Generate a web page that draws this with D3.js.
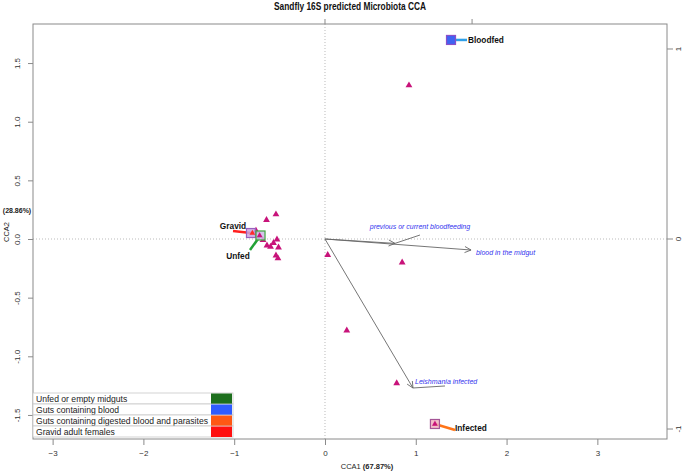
<!DOCTYPE html>
<html><head><meta charset="utf-8">
<script src="https://cdn.jsdelivr.net/npm/d3@7"></script>
<style>body{margin:0;background:#fff}svg{display:block}</style>
</head><body><svg id="c" width="685" height="472"></svg>
<script>
// ---------- data ----------
const title = "Sandfly 16S predicted Microbiota CCA";
const xTicks = [-3, -2, -1, 0, 1, 2, 3];
const yTicks = [-1.5, -1, -0.5, 0, 0.5, 1, 1.5];
const yTickLabels = ["-1.5", "-1.0", "-0.5", "0.0", "0.5", "1.0", "1.5"];
const topTicks = [0, 1];
const rightTicks = [-1, 0, 1];
const xLabel = "CCA1", xPct = "(67.87%)";
const yLabel = "CCA2", yPct = "(28.86%)";

// sample site scores (CCA1, CCA2)
const sampleX = [0.925, 0.03, 0.85, 0.24, 0.79, -0.54, -0.644, -0.683, -0.639, -0.60, -0.567, -0.529, -0.512, -0.54, -0.518, -0.76, -0.72, 1.211];
const sampleY = [1.31, -0.136, -0.20, -0.78, -1.23, 0.21, 0.162, -0.009, -0.055, -0.066, -0.034, -0.004, -0.072, -0.141, -0.165, 0.07, 0.03, -1.577];

// group centroids and label anchors
const groupNames = ["Bloodfed", "Infected", "Gravid", "Unfed"];
const groupX = [1.388, 1.211, -0.815, -0.71];
const groupY = [1.697, -1.577, 0.051, 0.03];
const groupLabelX = [1.564, 1.432, -1.013, -0.826];
const groupLabelY = [1.697, -1.628, 0.068, -0.094];

// environmental biplot arrows (biplot units)
const envNames = ["previous or current bloodfeeding", "blood in the midgut", "Leishmania infected"];
const envX = [0.476, 0.993, 0.598];
const envY = [-0.023, -0.058, -0.784];
const biplotMul = 1.62;
// label anchors (CCA units)
const envLabelX = [1.046, 1.663, 1.322];
const envLabelY = [0.034, -0.119, -1.253];

const legendLabels = ["Unfed or empty midguts", "Guts containing blood", "Guts containing digested blood and parasites", "Gravid adult females"];

// ---------- styles ----------
const legendColors = ["#1d6f1d", "#2f5cff", "#ff5814", "#ff1010"];
const groupFill = ["#3f63f2", "#f2b3c0", "#c9a3e0", "#cdbbe8"];
const groupStroke = ["#8a4fc8", "#a45596", "#9a60c0", "#3fa63f"];
const groupLine = ["#2f9fe8", "#ff7418", "#ff2020", "#22a236"];
const pointColor = "#c8137a";
const envColor = "#3333ee";

// ---------- layout ----------
const svg = d3.select("#c");
const L = 33, R = 667, T = 24, B = 439;
const x = d3.scaleLinear().domain([-3.216, 3.767]).range([L, R]);
const y = d3.scaleLinear().domain([-1.705, 1.833]).range([B, T]);
const font = "'Liberation Sans', Arial, sans-serif";
const axisCol = "#8a8a8a";

// title
svg.append("text").attr("x", 350).attr("y", 10).attr("text-anchor", "middle")
  .attr("font-family", font).attr("textLength", 152).attr("lengthAdjust", "spacingAndGlyphs")
  .attr("font-weight", "bold").attr("font-size", 10).attr("fill", "#111").text(title);

// reference lines
svg.append("line").attr("x1", x(0)).attr("x2", x(0)).attr("y1", T).attr("y2", B)
  .attr("stroke", "#aaa").attr("stroke-dasharray", "1,2").attr("stroke-width", 0.8);
svg.append("line").attr("x1", L).attr("x2", R).attr("y1", y(0)).attr("y2", y(0))
  .attr("stroke", "#aaa").attr("stroke-dasharray", "1,2").attr("stroke-width", 0.8);

// axes
function styleAxis(g) {
  g.select(".domain").remove();
  g.selectAll(".tick line").attr("stroke", axisCol);
  g.selectAll(".tick text").attr("font-family", font).attr("font-size", 8).attr("fill", "#333");
}
svg.append("g").attr("transform", `translate(0,${B})`)
  .call(d3.axisBottom(x).tickValues(xTicks).tickFormat(d3.format("d")).tickSize(6).tickPadding(5))
  .call(styleAxis);
const gl = svg.append("g").attr("transform", `translate(${L},0)`)
  .call(d3.axisLeft(y).tickValues(yTicks).tickFormat((d, i) => yTickLabels[i]).tickSize(5).tickPadding(0))
  .call(styleAxis);
gl.selectAll(".tick text").attr("text-anchor", "middle").attr("x", 0).attr("dy", 0)
  .attr("transform", "translate(-13,0) rotate(-90)");

const xb = v => x(v * biplotMul), yb = v => y(v * biplotMul);
svg.append("g").selectAll("line").data(topTicks).join("line")
  .attr("x1", d => xb(d)).attr("x2", d => xb(d)).attr("y1", T).attr("y2", T - 5).attr("stroke", axisCol);
const gr = svg.append("g");
gr.selectAll("line").data(rightTicks).join("line")
  .attr("x1", R).attr("x2", R + 6).attr("y1", d => yb(d)).attr("y2", d => yb(d)).attr("stroke", axisCol);
gr.selectAll("text").data(rightTicks).join("text")
  .attr("transform", d => `translate(${R + 14},${yb(d)}) rotate(-90)`)
  .attr("text-anchor", "middle").attr("font-family", font).attr("font-size", 8).attr("fill", "#333")
  .text(d => d);

// frame
svg.append("rect").attr("x", L).attr("y", T).attr("width", R - L).attr("height", B - T)
  .attr("fill", "none").attr("stroke", axisCol).attr("stroke-width", 1);

// axis titles
const xt = svg.append("text").attr("x", 367).attr("y", 469).attr("text-anchor", "middle")
  .attr("font-family", font).attr("font-size", 7.5).attr("fill", "#222");
xt.append("tspan").text(xLabel + "  ");
xt.append("tspan").attr("font-weight", "bold").text(xPct);
svg.append("text").attr("transform", "translate(9,232) rotate(-90)").attr("text-anchor", "middle")
  .attr("font-family", font).attr("font-size", 7.5).attr("fill", "#222").text(yLabel);
svg.append("text").attr("x", 17).attr("y", 213).attr("text-anchor", "middle")
  .attr("font-family", font).attr("font-weight", "bold").attr("font-size", 7).attr("fill", "#222").text(yPct);

// biplot arrows
const arrows = svg.append("g");
envNames.forEach((n, i) => {
  const x1 = x(0), y1 = y(0), x2 = xb(envX[i]), y2 = yb(envY[i]);
  arrows.append("line").attr("x1", x1).attr("y1", y1).attr("x2", x2).attr("y2", y2)
    .attr("stroke", "#666").attr("stroke-width", 0.9);
  const a = Math.atan2(y2 - y1, x2 - x1), h = 7, s = 0.45;
  arrows.append("path")
    .attr("d", `M${x2 - h * Math.cos(a - s)},${y2 - h * Math.sin(a - s)}L${x2},${y2}L${x2 - h * Math.cos(a + s)},${y2 - h * Math.sin(a + s)}`)
    .attr("fill", "none").attr("stroke", "#666").attr("stroke-width", 0.9);
});
// leader lines for arrow labels
[0, 2].forEach(i => {
  arrows.append("line").attr("x1", xb(envX[i])).attr("y1", yb(envY[i]))
    .attr("x2", x(envLabelX[i])).attr("y2", y(envLabelY[i])).attr("stroke", "#666").attr("stroke-width", 0.9);
});
const envText = [
  {i: 0, dx: 0, dy: -6, anchor: "middle"},
  {i: 1, dx: 0, dy: 2.5, anchor: "start"},
  {i: 2, dx: -30, dy: -2, anchor: "start"}
];
envText.forEach(t => {
  svg.append("text").attr("x", x(envLabelX[t.i]) + t.dx).attr("y", y(envLabelY[t.i]) + t.dy)
    .attr("text-anchor", t.anchor).attr("font-family", font).attr("font-style", "italic")
    .attr("font-size", 7).attr("fill", envColor).text(envNames[t.i]);
});

// sample points
const tri = d3.symbol().type(d3.symbolTriangle).size(20);
svg.append("g").selectAll("path").data(sampleX.map((v, i) => [v, sampleY[i]])).join("path")
  .attr("d", tri).attr("transform", d => `translate(${x(d[0])},${y(d[1])})`)
  .attr("fill", pointColor);

// group centroids, connectors, labels
const gg = svg.append("g");
groupNames.forEach((n, i) => {
  gg.append("line").attr("x1", x(groupX[i])).attr("y1", y(groupY[i]))
    .attr("x2", x(groupLabelX[i])).attr("y2", y(groupLabelY[i]))
    .attr("stroke", groupLine[i]).attr("stroke-width", 2.5);
});
groupNames.forEach((n, i) => {
  gg.append("rect").attr("x", x(groupX[i]) - 4.5).attr("y", y(groupY[i]) - 4.5)
    .attr("width", 9).attr("height", 9).attr("fill", groupFill[i]).attr("fill-opacity", i === 0 ? 1 : 0.85)
    .attr("stroke", groupStroke[i]).attr("stroke-width", 1.2);
});
// points visible inside boxes
gg.selectAll("path.in").data([[1.211, -1.577], [-0.80, 0.05], [-0.72, 0.03]]).join("path")
  .attr("d", d3.symbol().type(d3.symbolTriangle).size(14))
  .attr("transform", d => `translate(${x(d[0])},${y(d[1])})`)
  .attr("fill", (d, i) => i === 1 ? "#ff2a2a" : pointColor);
const glab = [
  {dx: 1, dy: 3, anchor: "start"},
  {dx: 0, dy: 1, anchor: "start"},
  {dx: 0, dy: -2, anchor: "middle"},
  {dx: -12, dy: 9, anchor: "middle"}
];
groupNames.forEach((n, i) => {
  gg.append("text").attr("x", x(groupLabelX[i]) + glab[i].dx).attr("y", y(groupLabelY[i]) + glab[i].dy)
    .attr("text-anchor", glab[i].anchor).attr("font-family", font).attr("font-weight", "bold")
    .attr("font-size", 8.3).attr("fill", "#111").text(n);
});

// legend
const lg = svg.append("g");
const lx = 33, ly = 393, lw = 200, rh = 11;
legendLabels.forEach((t, i) => {
  lg.append("rect").attr("x", lx).attr("y", ly + i * rh).attr("width", lw).attr("height", rh)
    .attr("fill", "#fff").attr("stroke", "#c8c8c8").attr("stroke-width", 0.8);
  lg.append("rect").attr("x", lx + 178).attr("y", ly + i * rh + 0.5).attr("width", 21).attr("height", rh - 0.5)
    .attr("fill", legendColors[i]);
  lg.append("text").attr("x", lx + 3).attr("y", ly + i * rh + 8.5).attr("font-family", font)
    .attr("font-size", 8.6).attr("fill", "#222").text(t);
});
</script></body></html>
